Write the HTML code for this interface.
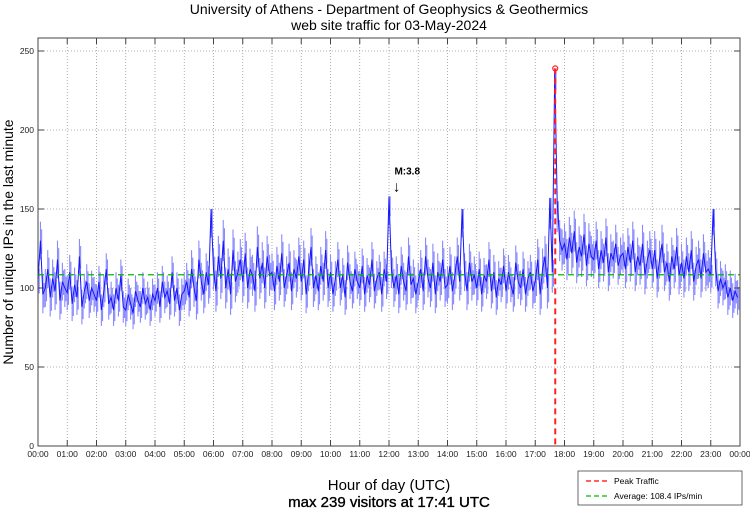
<!DOCTYPE html>
<html><head><meta charset="utf-8"><style>
body{margin:0;background:#fff;width:750px;height:511px;overflow:hidden}
svg{display:block;font-family:"Liberation Sans",sans-serif}
</style></head><body>
<svg id="chart" width="750" height="511" viewBox="0 0 750 511">
<text x="389" y="14" font-size="14" text-anchor="middle">University of Athens - Department of Geophysics &amp; Geothermics</text>
<text x="389" y="30" font-size="14" text-anchor="middle">web site traffic for 03-May-2024</text>
<text transform="translate(13,242) rotate(-90)" font-size="14" text-anchor="middle">Number of unique IPs in the last minute</text>
<text x="389" y="490" font-size="15" text-anchor="middle">Hour of day (UTC)</text>
<text x="389" y="507" font-size="15" text-anchor="middle" stroke="#000" stroke-width="0.35">max 239 visitors at 17:41 UTC</text>
<g id="grid"></g><g id="series"></g><g id="axes"></g>
<g>
<rect x="578" y="471" width="164" height="34" fill="#fff" stroke="#444" stroke-width="0.8"/>
<line x1="586" y1="481" x2="610" y2="481" stroke="#f00" stroke-width="1.2" stroke-dasharray="5,3"/>
<text x="614" y="484" font-size="8.5">Peak Traffic</text>
<line x1="586" y1="496" x2="610" y2="496" stroke="#0b0" stroke-width="1.2" stroke-dasharray="5,3"/>
<text x="614" y="499" font-size="8.5">Average: 108.4 IPs/min</text>
</g>
</svg>
<script>
const yTicks=[0,50,100,150,200,250];
const hourLabels=["00:00","01:00","02:00","03:00","04:00","05:00","06:00","07:00","08:00","09:00","10:00","11:00","12:00","13:00","14:00","15:00","16:00","17:00","18:00","19:00","20:00","21:00","22:00","23:00","00:00"];
const averageValue=108.4;
const peakValue=239;
const peakMinute=17*60+41;
const quakeMinute=12*60+5;
const quakeLabel="M:3.8";
// minute-to-minute spread (± IPs) per hour
const hourlySpread=[12,11,10,10,10,12,13,13,12,12,11,11,12,12,12,11,11,13,13,12,12,12,12,11];
// values every 5 minutes
const visitors=[
105,130,96,100,112,94,106,98,118,92,104,100,
97,110,90,102,94,120,88,98,104,92,100,96,
92,104,86,98,112,90,94,86,100,92,108,88,
86,96,90,84,98,92,88,100,90,94,86,96,
92,100,88,104,94,98,90,110,92,100,86,96,
98,104,94,112,100,92,118,104,96,110,102,150,
112,98,120,106,130,100,112,96,124,104,110,118,
104,122,100,112,108,98,126,106,116,100,120,108,
110,98,114,104,122,100,108,116,98,112,106,120,
104,118,96,110,126,100,108,98,114,104,124,100,
110,96,106,118,100,108,94,116,104,98,112,104,
100,114,96,108,102,118,98,106,110,96,112,104,
158,112,100,108,96,114,104,98,120,102,106,96,
104,112,98,120,106,100,116,96,110,104,118,100,
102,114,98,108,120,104,150,110,98,116,104,108,
100,112,96,108,104,118,98,110,94,106,102,114,
98,110,102,96,116,104,100,112,96,106,110,98,
104,118,96,112,120,100,157,110,239,155,130,124,
128,118,132,122,136,116,126,120,134,114,128,120,
118,130,112,124,116,132,110,122,118,128,114,120,
122,112,126,116,130,110,120,114,128,108,118,124,
112,124,106,118,128,110,116,104,120,112,126,108,
116,106,120,110,124,104,114,118,106,122,110,112,
108,150,112,98,106,100,104,94,100,92,98,94];
const L=38,R=740,T=38,B=446;
const X=m=>L+(R-L)*m/1440;
const Y=v=>B-(v/250)*(B-51);
const NS="http://www.w3.org/2000/svg";
function mk(tag,parent,attrs){const e=document.createElementNS(NS,tag);for(const k in attrs)e.setAttribute(k,attrs[k]);parent.appendChild(e);return e;}
const grid=document.getElementById('grid'),axes=document.getElementById('axes'),series=document.getElementById('series');
hourLabels.forEach((h,i)=>{const x=X(i*60);
 if(i>0&&i<24){const g=mk('line',grid,{x1:x,y1:T,x2:x,y2:B,stroke:'#999','stroke-width':0.8,'stroke-dasharray':'1,2'});
 }
 const t=mk('line',axes,{x1:x,y1:B,x2:x,y2:B-6,stroke:'#444'});
 const t2=mk('line',axes,{x1:x,y1:T,x2:x,y2:T+6,stroke:'#444'});
 const l=mk('text',axes,{x:x,y:457,'font-size':8.5,'text-anchor':'middle',fill:'#222'});l.textContent=h;
 });
yTicks.forEach(v=>{const y=Y(v);
 if(v>0){const g=mk('line',grid,{x1:L,y1:y,x2:R,y2:y,stroke:'#999','stroke-width':0.8,'stroke-dasharray':'1,2'});
 }
 const t=mk('line',axes,{x1:L,y1:y,x2:L+6,y2:y,stroke:'#444'});
 const t2=mk('line',axes,{x1:R,y1:y,x2:R-6,y2:y,stroke:'#444'});
 const l=mk('text',axes,{x:L-4,y:y+3,'font-size':8.5,'text-anchor':'end',fill:'#222'});l.textContent=v;
 });
const box=mk('rect',axes,{x:L,y:T,width:R-L,height:B-T,fill:'none',stroke:'#444'});

// minute-level spread envelope drawn as vertical strokes (spikes get no extra spread above)
let d='';
visitors.forEach((v,i)=>{const s=hourlySpread[Math.min(23,Math.floor(i/12))];
 const up=v>145?0:s, dn=v>145?s*1.5:s;
 const x=X(i*5);d+='M'+x+','+Y(v+up)+'L'+x+','+Y(v-dn)+'M'+(x+1.2)+','+Y(v+up*0.6)+'L'+(x+1.2)+','+Y(v-dn*0.7);});
const band=mk('path',series,{d:d,stroke:'#8a8aff','stroke-width':1.1,fill:'none'});

const pts=visitors.map((v,i)=>X(i*5)+','+Y(v)).join(' ');
const line=mk('polyline',series,{points:pts,fill:'none',stroke:'#1515ff','stroke-width':1});

const avg=mk('line',series,{x1:L,y1:Y(averageValue),x2:R,y2:Y(averageValue),stroke:'#0b0','stroke-width':1.3,'stroke-dasharray':'6,4'});

const pk=mk('line',series,{x1:X(peakMinute),y1:Y(peakValue),x2:X(peakMinute),y2:B,stroke:'#f22','stroke-width':2,'stroke-dasharray':'6,4'});

const pc=mk('circle',series,{cx:X(peakMinute),cy:Y(peakValue),r:2.5,fill:'none',stroke:'#f22','stroke-width':1.2});

const qt=mk('text',series,{x:X(quakeMinute)+3,y:Y(158)-22,'font-size':10,'font-weight':'bold'});qt.textContent=quakeLabel;

const qa=mk('text',series,{x:X(quakeMinute)+5,y:Y(158)-5,'font-size':15,'text-anchor':'middle'});qa.textContent='↓';

</script>
</body></html>
